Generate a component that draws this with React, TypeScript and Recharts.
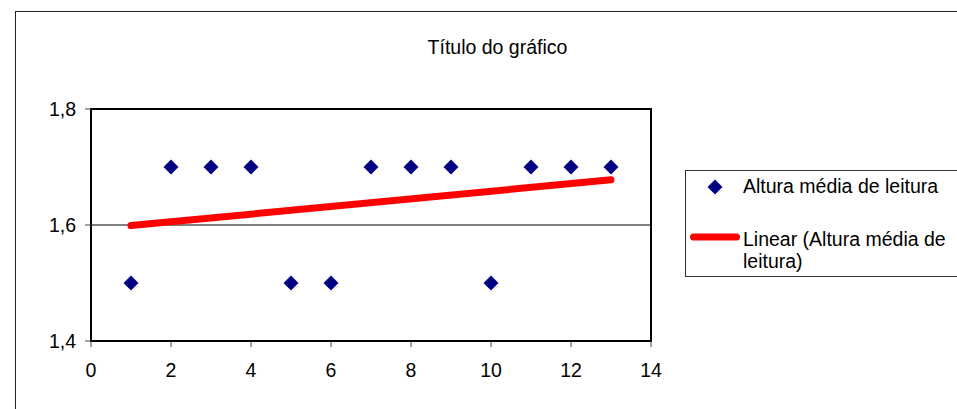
import React from 'react';
import {
  ScatterChart,
  Scatter,
  XAxis,
  YAxis,
  CartesianGrid,
  ReferenceArea,
  Legend,
} from 'recharts';

const chartTitle = 'Título do gráfico';
const seriesName = 'Altura média de leitura';
const trendName = 'Linear (Altura média de leitura)';
const trendNameLines = ['Linear (Altura média de', 'leitura)'];

const xValues = [1, 2, 3, 4, 5, 6, 7, 8, 9, 10, 11, 12, 13];
const yValues = [1.5, 1.7, 1.7, 1.7, 1.5, 1.5, 1.7, 1.7, 1.7, 1.5, 1.7, 1.7, 1.7];
const trendX = [1, 13];
const trendY = [1.599, 1.678];
const xTicks = [0, 2, 4, 6, 8, 10, 12, 14];
const yTicks = [1.4, 1.6, 1.8];

const FONT = '"Liberation Sans", Arial, sans-serif';
const FS = 19.5;

const points = xValues.map((x, i) => ({ x, y: yValues[i] }));
const trend = trendX.map((x, i) => ({ x, y: trendY[i] }));

const Diamond = (props: any) => {
  const { cx, cy } = props;
  if (cx == null || cy == null) return <g />;
  const r = 7.5;
  return (
    <polygon
      points={`${cx},${cy - r} ${cx + r},${cy} ${cx},${cy + r} ${cx - r},${cy}`}
      fill="#000080"
    />
  );
};

const NoShape = () => <g />;

const LegendContent = () => (
  <div
    style={{
      width: 320,
      height: 107,
      border: '1px solid #333',
      boxSizing: 'border-box',
      background: '#fff',
    }}
  >
    <svg width={320} height={107} style={{ display: 'block', position: 'absolute', left: 0, top: 0 }}>
      <polygon points="30,9.5 37.5,17 30,24.5 22.5,17" fill="#000080" />
      <text x={58} y={23} fontSize={FS} fontFamily={FONT} fill="#000">
        {seriesName}
      </text>
      <line x1={8.5} y1={67} x2={51.5} y2={67} stroke="#FF0000" strokeWidth={7} strokeLinecap="round" />
      <text x={58} y={76} fontSize={FS} fontFamily={FONT} fill="#000">
        {trendNameLines[0]}
      </text>
      <text x={58} y={98} fontSize={FS} fontFamily={FONT} fill="#000">
        {trendNameLines[1]}
      </text>
    </svg>
  </div>
);

const fmt = (v: number) => v.toFixed(1).replace('.', ',');

export default function App() {
  return (
    <div
      style={{
        position: 'absolute',
        left: 0,
        top: 0,
        width: 957,
        height: 409,
        overflow: 'hidden',
        background: '#fff',
        fontFamily: FONT,
      }}
    >
      <div
        style={{
          position: 'absolute',
          left: 15,
          top: 11,
          width: 1100,
          height: 1000,
          border: '1px solid #222',
        }}
      />
      <div
        style={{
          position: 'absolute',
          left: 0,
          top: 0,
          width: 995,
          textAlign: 'center',
          fontSize: FS,
          lineHeight: '20px',
          top: 37,
          color: '#000',
        }}
      >
        {chartTitle}
      </div>
      <div style={{ position: 'absolute', left: 0, top: 0 }}>
        <ScatterChart
          width={957}
          height={409}
          margin={{ top: 109, right: 306, bottom: 28, left: 16 }}
          style={{ fontFamily: FONT }}
        >
          <CartesianGrid vertical={false} stroke="#000" strokeWidth={1} strokeDasharray="" />
          <XAxis
            type="number"
            dataKey="x"
            domain={[0, 14]}
            ticks={xTicks}
            allowDataOverflow
            height={40}
            tickSize={6}
            tickMargin={16}
            axisLine={{ stroke: '#000', strokeWidth: 2 }}
            tickLine={{ stroke: '#444' }}
            tick={{ fill: '#000', fontSize: FS, fontFamily: FONT }}
          />
          <YAxis
            type="number"
            dataKey="y"
            domain={[1.4, 1.8]}
            ticks={yTicks}
            allowDataOverflow
            width={75}
            tickSize={6}
            tickMargin={9}
            tickFormatter={fmt}
            axisLine={{ stroke: '#000', strokeWidth: 2 }}
            tickLine={{ stroke: '#444' }}
            tick={{ fill: '#000', fontSize: FS, fontFamily: FONT }}
          />
          <ReferenceArea
            x1={0}
            x2={14}
            y1={1.4}
            y2={1.8}
            fill="none"
            fillOpacity={0}
            stroke="#000"
            strokeWidth={2}
          />
          <Scatter
            name={seriesName}
            data={points}
            shape={Diamond}
            isAnimationActive={false}
          />
          <Scatter
            name={trendName}
            data={trend}
            line={{ stroke: '#FF0000', strokeWidth: 7, strokeLinecap: 'round' }}
            lineType="joint"
            shape={NoShape}
            isAnimationActive={false}
          />
          <Legend
            layout="horizontal"
            align="center"
            verticalAlign="middle"
            content={LegendContent}
            wrapperStyle={{ left: 685, top: 170, width: 320, height: 107, bottom: 'auto', right: 'auto' }}
          />
        </ScatterChart>
      </div>
    </div>
  );
}
